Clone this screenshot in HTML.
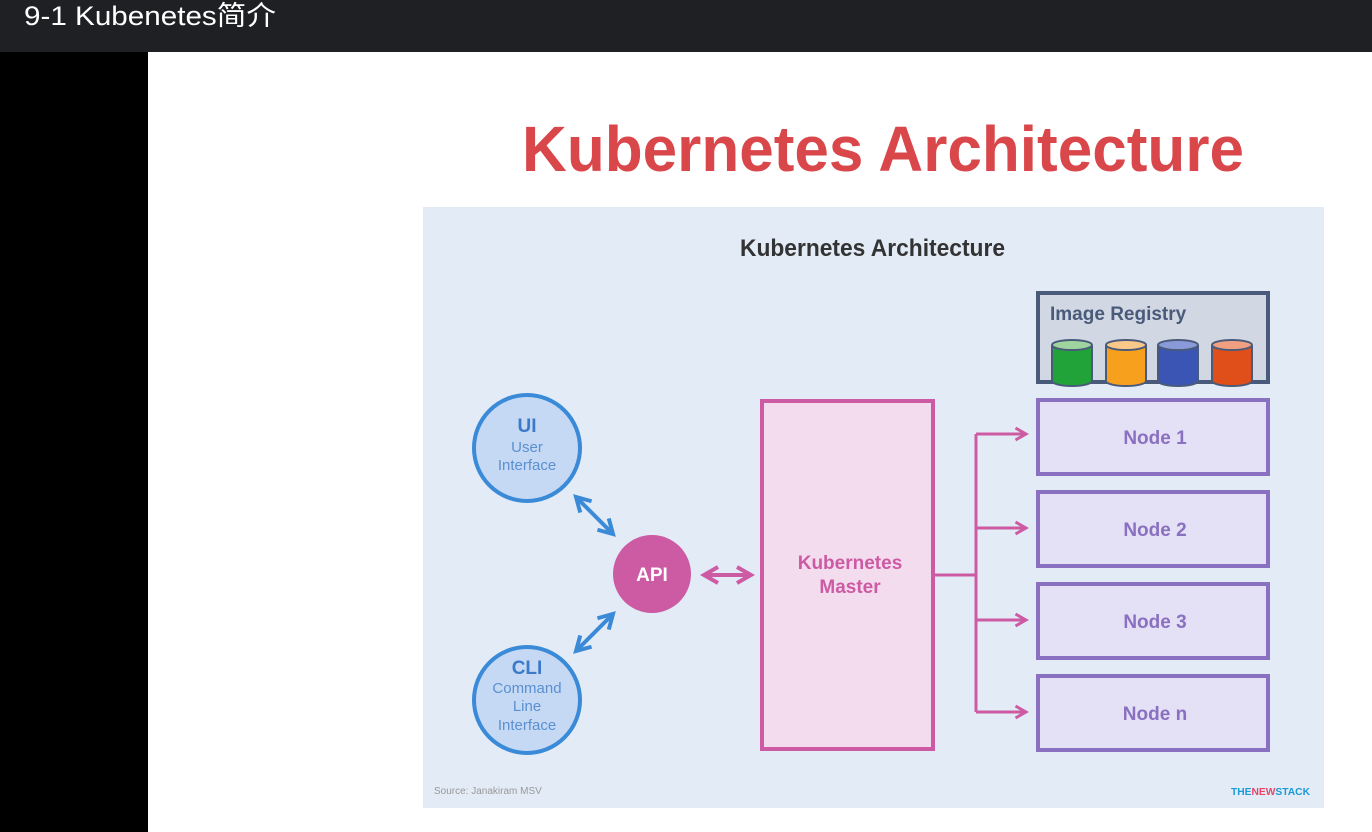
<!DOCTYPE html>
<html><head><meta charset="utf-8"><style>
html,body{margin:0;padding:0;width:1372px;height:832px;overflow:hidden;background:#fff}
</style></head><body>
<svg width="1372" height="832" xmlns="http://www.w3.org/2000/svg" font-family="Liberation Sans, DejaVu Sans, sans-serif">
<rect x="0" y="0" width="1372" height="52" fill="#1f2023"/>
<text x="24" y="16" dominant-baseline="central" font-size="27" fill="#fff" font-family="Liberation Sans, Noto Sans CJK SC, sans-serif" textLength="252" lengthAdjust="spacingAndGlyphs">9-1 Kubenetes简介</text>
<rect x="0" y="52" width="148" height="780" fill="#000"/>
<rect x="148" y="52" width="1224" height="780" fill="#fff"/>
<text x="522" y="171" font-size="64" font-weight="bold" fill="#d9474b" textLength="722" lengthAdjust="spacingAndGlyphs">Kubernetes Architecture</text>
<rect x="423" y="207" width="901" height="601" fill="#e3ebf6"/>
<text x="740" y="256" font-size="24" font-weight="bold" fill="#333" textLength="265" lengthAdjust="spacingAndGlyphs">Kubernetes Architecture</text>

<defs>
<marker id="b" viewBox="0 0 10 10" refX="8" refY="5" markerWidth="5" markerHeight="5" orient="auto-start-reverse"><path d="M1,1 L8,5 L1,9" fill="none" stroke="#3a8ad8" stroke-width="2"/></marker>
<marker id="m" viewBox="0 0 10 10" refX="8" refY="5" markerWidth="5" markerHeight="5" orient="auto-start-reverse"><path d="M1,1 L8,5 L1,9" fill="none" stroke="#cc5ba3" stroke-width="2"/></marker>
</defs>

<circle cx="527" cy="448" r="53" fill="#c5d9f5" stroke="#3a8ad8" stroke-width="4"/>
<text x="527" y="432" text-anchor="middle" font-size="19" font-weight="bold" fill="#3a7ac8">UI</text>
<text x="527" y="452" text-anchor="middle" font-size="15" fill="#5a90d0">User</text>
<text x="527" y="470" text-anchor="middle" font-size="15" fill="#5a90d0">Interface</text>
<circle cx="527" cy="700" r="53" fill="#c5d9f5" stroke="#3a8ad8" stroke-width="4"/>
<text x="527" y="674" text-anchor="middle" font-size="19" font-weight="bold" fill="#3a7ac8">CLI</text>
<text x="527" y="693" text-anchor="middle" font-size="15" fill="#5a90d0">Command</text>
<text x="527" y="711" text-anchor="middle" font-size="15" fill="#5a90d0">Line</text>
<text x="527" y="730" text-anchor="middle" font-size="15" fill="#5a90d0">Interface</text>

<line x1="576" y1="497" x2="613" y2="534" stroke="#3a8ad8" stroke-width="4" marker-start="url(#b)" marker-end="url(#b)"/>
<line x1="576" y1="651" x2="613" y2="614" stroke="#3a8ad8" stroke-width="4" marker-start="url(#b)" marker-end="url(#b)"/>

<circle cx="652" cy="574" r="39" fill="#cc5ba3"/>
<text x="652" y="581" text-anchor="middle" font-size="19" font-weight="bold" fill="#fff">API</text>
<line x1="704" y1="575" x2="751" y2="575" stroke="#cc5ba3" stroke-width="4" marker-start="url(#m)" marker-end="url(#m)"/>

<rect x="762" y="401" width="171" height="348" fill="#f3dcee" stroke="#cc5ba3" stroke-width="4"/>
<text x="850" y="569" text-anchor="middle" font-size="19" font-weight="bold" fill="#cc5ba3">Kubernetes</text>
<text x="850" y="593" text-anchor="middle" font-size="19" font-weight="bold" fill="#cc5ba3">Master</text>

<g stroke="#cc5ba3" stroke-width="3" fill="none">
<line x1="933" y1="575" x2="976" y2="575"/>
<line x1="976" y1="434" x2="976" y2="712"/>
<line x1="976" y1="434" x2="1026" y2="434" marker-end="url(#m)"/>
<line x1="976" y1="528" x2="1026" y2="528" marker-end="url(#m)"/>
<line x1="976" y1="620" x2="1026" y2="620" marker-end="url(#m)"/>
<line x1="976" y1="712" x2="1026" y2="712" marker-end="url(#m)"/>
</g>

<g stroke="#8a70c0" stroke-width="4" fill="#e4e0f5">
<rect x="1038" y="400" width="230" height="74"/>
<rect x="1038" y="492" width="230" height="74"/>
<rect x="1038" y="584" width="230" height="74"/>
<rect x="1038" y="676" width="230" height="74"/>
</g>
<g font-size="19" font-weight="bold" fill="#8a70c0" text-anchor="middle">
<text x="1155" y="444">Node 1</text>
<text x="1155" y="536">Node 2</text>
<text x="1155" y="628">Node 3</text>
<text x="1155" y="720">Node n</text>
</g>

<rect x="1038" y="293" width="230" height="89" fill="#d2d8e3" stroke="#4a5a7a" stroke-width="4"/>
<text x="1050" y="320" font-size="19" font-weight="bold" fill="#4a5a7a">Image Registry</text>
<g stroke="#4a5a7a" stroke-width="2">
<path d="M1052,345 v36 a20,5 0 0 0 40,0 v-36" fill="#22a33a"/><ellipse cx="1072" cy="345" rx="20" ry="5" fill="#9fd49f"/>
<path d="M1106,345 v36 a20,5 0 0 0 40,0 v-36" fill="#f7a01e"/><ellipse cx="1126" cy="345" rx="20" ry="5" fill="#f9c98a"/>
<path d="M1158,345 v36 a20,5 0 0 0 40,0 v-36" fill="#3b55b5"/><ellipse cx="1178" cy="345" rx="20" ry="5" fill="#8a9ad8"/>
<path d="M1212,345 v36 a20,5 0 0 0 40,0 v-36" fill="#e04e1a"/><ellipse cx="1232" cy="345" rx="20" ry="5" fill="#f0a080"/>
</g>

<text x="434" y="794" font-size="10" fill="#999">Source: Janakiram MSV</text>
<text x="1231" y="795" font-size="10.5" font-weight="bold" textLength="79" lengthAdjust="spacingAndGlyphs"><tspan fill="#1a9ad6">THE</tspan><tspan fill="#e8456a">NEW</tspan><tspan fill="#1a9ad6">STACK</tspan></text>
</svg>
</body></html>
